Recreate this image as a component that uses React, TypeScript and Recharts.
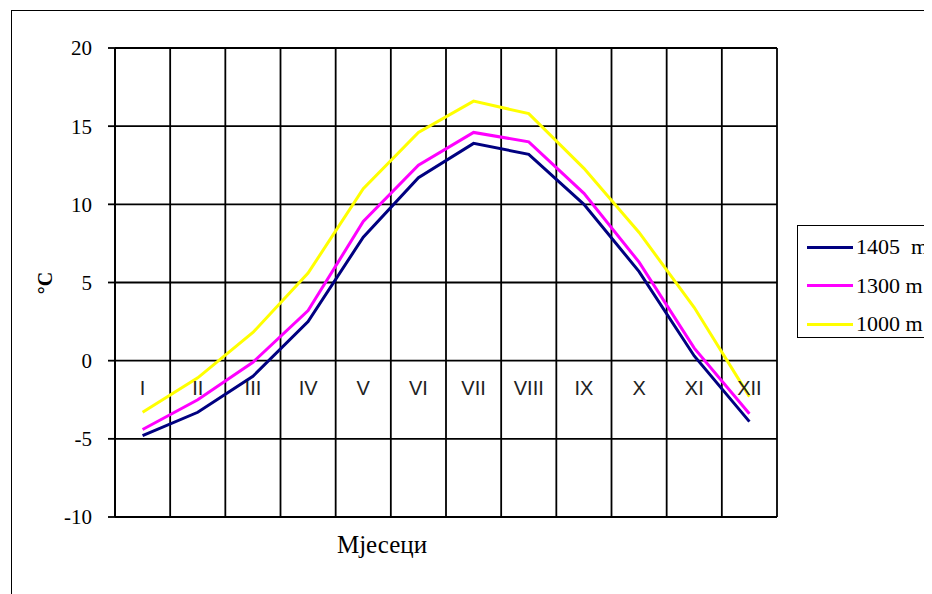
import { LineChart, Line, XAxis, YAxis, CartesianGrid } from "recharts";

const months = ["I", "II", "III", "IV", "V", "VI", "VII", "VIII", "IX", "X", "XI", "XII"];
const t1405 = [-4.8, -3.3, -1.0, 2.5, 7.9, 11.7, 13.9, 13.2, 10.0, 5.7, 0.3, -3.9];
const t1300 = [-4.4, -2.5, -0.1, 3.2, 8.9, 12.5, 14.6, 14.0, 10.7, 6.3, 0.8, -3.4];
const t1000 = [-3.3, -1.1, 1.8, 5.6, 11.0, 14.6, 16.6, 15.8, 12.3, 8.2, 3.4, -2.3];
const yTicks = [-10, -5, 0, 5, 10, 15, 20];

const series = [
  { key: "t1405", name: "1405  m", color: "#000080" },
  { key: "t1300", name: "1300 m", color: "#ff00ff" },
  { key: "t1000", name: "1000 m", color: "#ffff00" },
];

const data = months.map((m, i) => ({
  month: m,
  t1405: t1405[i],
  t1300: t1300[i],
  t1000: t1000[i],
}));

const SERIF = "'Liberation Serif', 'Times New Roman', serif";
const SANS = "'Liberation Sans', Arial, sans-serif";
const LABEL_Y = 380;
const PLOT_W = 662;
const HALF_BAND = PLOT_W / months.length / 2;

const MonthTick = (props: any) => {
  const { x, payload } = props;
  return (
    <text
      x={x}
      y={LABEL_Y}
      textAnchor="middle"
      dominantBaseline="central"
      fontFamily={SANS}
      fontSize={20}
      fill="#222"
    >
      {payload.value}
    </text>
  );
};

const LegendBox = () => (
  <div
    style={{
      position: "absolute",
      left: 789,
      top: 217,
      border: "1.5px solid #000",
      width: 160,
      height: 113,
      boxSizing: "border-box",
      background: "#fff",
      paddingTop: 2,
    }}
  >
    {series.map((s) => (
      <div key={s.key} style={{ display: "flex", alignItems: "center", height: 38.5 }}>
        <div style={{ width: 46, height: 3, background: s.color, marginLeft: 9 }} />
        <span
          style={{
            fontFamily: SERIF,
            fontSize: 22,
            whiteSpace: "pre",
            marginLeft: 3,
            lineHeight: 1,
          }}
        >
          {s.name}
        </span>
      </div>
    ))}
  </div>
);

export default function App() {
  return (
    <div style={{ position: "relative", width: 924, height: 586, overflow: "hidden", background: "#fff" }}>
      <div
        style={{
          position: "absolute",
          left: 3,
          top: 2,
          width: 960,
          height: 640,
          border: "1.5px solid #000",
          boxSizing: "border-box",
        }}
      />
      <LineChart
        width={924}
        height={586}
        data={data}
        margin={{ top: 40, right: 155, bottom: 47, left: 47 }}
        style={{ position: "absolute", left: 0, top: 0 }}
      >
        <CartesianGrid
          stroke="#000"
          strokeWidth={1.8}
          verticalCoordinatesGenerator={({ offset }: any) =>
            months.map((_m, i) => offset.left + (i * offset.width) / months.length).concat(offset.left + offset.width)
          }
        />
        <XAxis
          dataKey="month"
          axisLine={false}
          tickLine={false}
          tick={<MonthTick />}
          height={30}
          interval={0}
          padding={{ left: HALF_BAND, right: HALF_BAND }}
        />
        <YAxis
          domain={[-10, 20]}
          ticks={yTicks}
          width={60}
          axisLine={{ stroke: "#000", strokeWidth: 1.8 }}
          tickLine={{ stroke: "#000", strokeWidth: 1.8 }}
          tickSize={7}
          tickMargin={16}
          tick={{ fontFamily: SERIF, fontSize: 21, fill: "#000" }}
          interval={0}
        />
        {series.map((s) => (
          <Line
            key={s.key}
            dataKey={s.key}
            name={s.name}
            stroke={s.color}
            strokeWidth={3}
            dot={false}
            type="linear"
            isAnimationActive={false}
          />
        ))}
      </LineChart>
      <LegendBox />
      <div
        style={{
          position: "absolute",
          left: 37,
          top: 275,
          transform: "translate(-50%, -50%) rotate(-90deg)",
          fontFamily: SERIF,
          fontSize: 20,
          fontWeight: "bold",
          whiteSpace: "nowrap",
        }}
      >
        °C
      </div>
      <div
        style={{
          position: "absolute",
          left: 374,
          top: 537,
          transform: "translate(-50%, -50%)",
          fontFamily: SERIF,
          fontSize: 25,
          whiteSpace: "nowrap",
        }}
      >
        Мјесеци
      </div>
    </div>
  );
}
